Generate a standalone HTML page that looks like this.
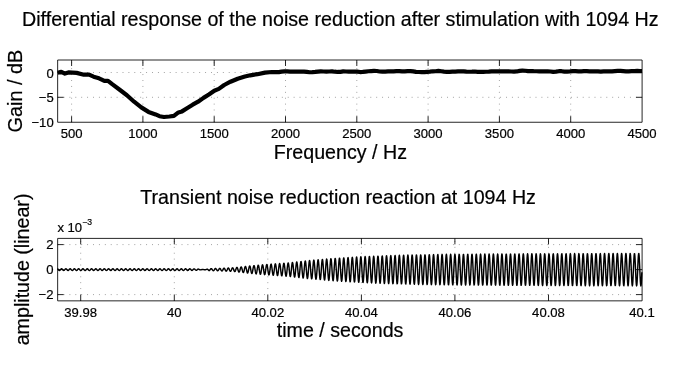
<!DOCTYPE html>
<html><head><meta charset="utf-8"><title>Noise reduction plots</title>
<style>html,body{margin:0;padding:0;background:#fff}svg{display:block}
text{font-family:"Liberation Sans",sans-serif;fill:#000;font-variant-ligatures:none;stroke:#000;stroke-width:.2px}
.t{font-size:19.65px}.k{font-size:13.1px}
.g{stroke:#000;stroke-opacity:.5;stroke-width:.8;stroke-dasharray:.9 5;fill:none}
.a{stroke:#000;stroke-opacity:.85;stroke-width:1;fill:none}
</style></head><body>
<svg width="685" height="367" viewBox="0 0 685 367">
<rect width="685" height="367" fill="#fff"/>
<text class="t" style="font-size:19.67px" x="22.0" y="25.6">Differential response of the noise reduction after stimulation with 1094 Hz</text>
<text class="t" x="140.3" y="204.1">Transient noise reduction reaction at 1094 Hz</text>
<text class="t" x="273.8" y="158.5">Frequency / Hz</text>
<text class="t" x="276.8" y="336.8">time / seconds</text>
<text class="t" style="font-size:19.85px" transform="translate(21.8,132.5) rotate(-90)">Gain / dB</text>
<text class="t" transform="translate(28.9,345.3) rotate(-90)">amplitude (linear)</text>
<path class="g" d="M71.6,122.25 V60.0"/>
<path class="a" d="M71.6,122.25 v-6 M71.6,60.0 v6"/>
<text class="k" text-anchor="middle" x="71.6" y="138.4">500</text>
<path class="g" d="M142.9,122.25 V60.0"/>
<path class="a" d="M142.9,122.25 v-6 M142.9,60.0 v6"/>
<text class="k" text-anchor="middle" x="142.9" y="138.4">1000</text>
<path class="g" d="M214.2,122.25 V60.0"/>
<path class="a" d="M214.2,122.25 v-6 M214.2,60.0 v6"/>
<text class="k" text-anchor="middle" x="214.2" y="138.4">1500</text>
<path class="g" d="M285.5,122.25 V60.0"/>
<path class="a" d="M285.5,122.25 v-6 M285.5,60.0 v6"/>
<text class="k" text-anchor="middle" x="285.5" y="138.4">2000</text>
<path class="g" d="M356.8,122.25 V60.0"/>
<path class="a" d="M356.8,122.25 v-6 M356.8,60.0 v6"/>
<text class="k" text-anchor="middle" x="356.8" y="138.4">2500</text>
<path class="g" d="M428.1,122.25 V60.0"/>
<path class="a" d="M428.1,122.25 v-6 M428.1,60.0 v6"/>
<text class="k" text-anchor="middle" x="428.1" y="138.4">3000</text>
<path class="g" d="M499.4,122.25 V60.0"/>
<path class="a" d="M499.4,122.25 v-6 M499.4,60.0 v6"/>
<text class="k" text-anchor="middle" x="499.4" y="138.4">3500</text>
<path class="g" d="M570.7,122.25 V60.0"/>
<path class="a" d="M570.7,122.25 v-6 M570.7,60.0 v6"/>
<text class="k" text-anchor="middle" x="570.7" y="138.4">4000</text>
<text class="k" text-anchor="middle" x="642.0" y="138.4">4500</text>
<path class="g" d="M57.65,72.5 H642.1"/>
<path class="a" d="M57.65,72.5 h6 M642.1,72.5 h-6"/>
<text class="k" text-anchor="end" x="53.7" y="77.5">0</text>
<path class="g" d="M57.65,97.3 H642.1"/>
<path class="a" d="M57.65,97.3 h6 M642.1,97.3 h-6"/>
<text class="k" text-anchor="end" x="53.7" y="102.3">−5</text>
<text class="k" text-anchor="end" x="53.7" y="127.2">−10</text>
<path class="a" d="M57.65,60.0 H642.1 V122.25 H57.65 Z"/>
<path d="M57.7,72.70 L61.3,71.80 L64.9,73.60 L68.5,72.40 L76.6,72.90 L83.8,74.70 L89.1,74.70 L93.6,76.70 L99.0,78.30 L104.4,80.80 L108.0,80.80 L112.5,84.40 L119.7,89.80 L126.9,95.20 L134.1,101.70 L141.3,107.40 L148.5,111.90 L155.6,114.40 L159.5,116.20 L164.0,117.00 L169.4,116.50 L173.9,115.90 L178.4,112.40 L182.0,111.40 L187.4,108.00 L192.7,104.70 L198.1,101.70 L203.5,97.90 L208.9,94.50 L214.3,90.70 L218.8,88.90 L224.2,85.00 L230.5,81.70 L237.7,78.70 L244.9,76.50 L250.3,75.30 L257.4,74.20 L265.0,72.60 L272.0,72.00 L276.0,72.18 L278.8,72.13 L281.6,71.62 L284.4,71.43 L287.2,71.43 L290.0,71.66 L292.8,71.62 L295.6,71.64 L298.4,71.61 L301.2,71.49 L304.0,71.57 L306.8,71.85 L309.6,72.25 L312.4,72.17 L315.2,71.92 L318.0,71.59 L320.8,71.36 L323.6,71.50 L326.4,71.54 L329.2,71.49 L332.0,71.32 L334.8,71.71 L337.6,71.97 L340.4,71.80 L343.2,71.44 L346.0,71.50 L348.8,71.68 L351.6,71.63 L354.4,71.48 L357.2,71.62 L360.0,72.03 L362.8,71.95 L365.6,71.61 L368.4,71.26 L371.2,71.09 L374.0,70.97 L376.8,71.00 L379.6,71.47 L382.4,71.67 L385.2,71.53 L388.0,71.39 L390.8,71.46 L393.6,71.39 L396.4,71.16 L399.2,71.18 L402.0,71.29 L404.8,71.36 L407.6,71.17 L410.4,71.14 L413.2,71.36 L416.0,71.83 L418.8,72.01 L421.6,72.03 L424.4,72.11 L427.2,71.82 L430.0,71.66 L432.8,71.29 L435.6,71.24 L438.4,70.92 L441.2,71.24 L444.0,71.63 L446.8,71.87 L449.6,71.90 L452.4,71.71 L455.2,71.64 L458.0,71.46 L460.8,71.40 L463.6,71.38 L466.4,71.68 L469.2,71.75 L472.0,71.68 L474.8,71.48 L477.6,71.80 L480.4,71.83 L483.2,71.88 L486.0,71.73 L488.8,71.69 L491.6,71.39 L494.4,71.41 L497.2,71.31 L500.0,71.41 L502.8,71.37 L505.6,71.45 L508.4,71.37 L511.2,71.48 L514.0,71.64 L516.8,71.44 L519.6,70.84 L522.4,70.62 L525.2,70.74 L528.0,71.08 L530.8,71.08 L533.6,71.19 L536.4,71.23 L539.2,71.30 L542.0,71.36 L544.8,71.35 L547.6,71.25 L550.4,71.47 L553.2,71.81 L556.0,71.61 L558.8,71.21 L561.6,71.22 L564.4,71.58 L567.2,71.64 L570.0,71.44 L572.8,71.14 L575.6,71.19 L578.4,71.36 L581.2,71.37 L584.0,71.22 L586.8,71.13 L589.6,71.28 L592.4,71.26 L595.2,71.32 L598.0,71.38 L600.8,71.55 L603.6,71.35 L606.4,71.35 L609.2,71.29 L612.0,71.37 L614.8,71.13 L617.6,70.93 L620.4,70.85 L623.2,71.07 L626.0,71.30 L628.8,71.28 L631.6,71.17 L634.4,71.03 L637.2,70.96 L640.0,71.07 L642.0,71.10" fill="none" stroke="#000" stroke-width="4.2" stroke-linejoin="round" stroke-linecap="butt"/>
<path class="g" d="M80.7,300.85 V238.4"/>
<path class="a" d="M80.7,300.85 v-6 M80.7,238.4 v6"/>
<text class="k" text-anchor="middle" x="80.7" y="316.8">39.98</text>
<path class="g" d="M174.3,300.85 V238.4"/>
<path class="a" d="M174.3,300.85 v-6 M174.3,238.4 v6"/>
<text class="k" text-anchor="middle" x="174.3" y="316.8">40</text>
<path class="g" d="M267.8,300.85 V238.4"/>
<path class="a" d="M267.8,300.85 v-6 M267.8,238.4 v6"/>
<text class="k" text-anchor="middle" x="267.8" y="316.8">40.02</text>
<path class="g" d="M361.4,300.85 V238.4"/>
<path class="a" d="M361.4,300.85 v-6 M361.4,238.4 v6"/>
<text class="k" text-anchor="middle" x="361.4" y="316.8">40.04</text>
<path class="g" d="M454.9,300.85 V238.4"/>
<path class="a" d="M454.9,300.85 v-6 M454.9,238.4 v6"/>
<text class="k" text-anchor="middle" x="454.9" y="316.8">40.06</text>
<path class="g" d="M548.5,300.85 V238.4"/>
<path class="a" d="M548.5,300.85 v-6 M548.5,238.4 v6"/>
<text class="k" text-anchor="middle" x="548.5" y="316.8">40.08</text>
<text class="k" text-anchor="middle" x="642.0" y="316.8">40.1</text>
<path class="g" d="M57.65,244.6 H642.1"/>
<path class="a" d="M57.65,244.6 h6 M642.1,244.6 h-6"/>
<text class="k" text-anchor="end" x="53.5" y="249.2">2</text>
<path class="g" d="M57.65,269.6 H642.1"/>
<path class="a" d="M57.65,269.6 h6 M642.1,269.6 h-6"/>
<text class="k" text-anchor="end" x="53.5" y="274.2">0</text>
<path class="g" d="M57.65,294.6 H642.1"/>
<path class="a" d="M57.65,294.6 h6 M642.1,294.6 h-6"/>
<text class="k" text-anchor="end" x="53.5" y="299.2">−2</text>
<path class="a" d="M57.65,238.4 H642.1 V300.85 H57.65 Z"/>
<text class="k" x="57.4" y="231.9">x 10<tspan dy="-6.9" font-size="8.6">−3</tspan></text>
<path d="M57.35,268.78 L57.60,268.85 L57.85,269.03 L58.10,269.29 L58.35,269.59 L58.60,269.90 L58.85,270.17 L59.10,270.37 L59.35,270.47 L59.60,270.45 L59.85,270.33 L60.10,270.11 L60.35,269.83 L60.60,269.52 L60.85,269.22 L61.10,268.98 L61.35,268.82 L61.60,268.78 L61.85,268.84 L62.10,269.01 L62.35,269.26 L62.60,269.56 L62.85,269.87 L63.10,270.15 L63.35,270.35 L63.60,270.46 L63.85,270.46 L64.10,270.35 L64.35,270.14 L64.60,269.86 L64.85,269.55 L65.10,269.25 L65.35,269.00 L65.60,268.84 L65.85,268.78 L66.10,268.83 L66.35,268.99 L66.60,269.23 L66.85,269.53 L67.10,269.84 L67.35,270.12 L67.60,270.34 L67.85,270.46 L68.10,270.47 L68.35,270.36 L68.60,270.16 L68.85,269.89 L69.10,269.58 L69.35,269.28 L69.60,269.02 L69.85,268.85 L70.10,268.78 L70.35,268.82 L70.60,268.97 L70.85,269.20 L71.10,269.50 L71.35,269.81 L71.60,270.09 L71.85,270.32 L72.10,270.45 L72.35,270.47 L72.60,270.38 L72.85,270.19 L73.10,269.92 L73.35,269.61 L73.60,269.31 L73.85,269.05 L74.10,268.86 L74.35,268.78 L74.60,268.81 L74.85,268.95 L75.10,269.18 L75.35,269.47 L75.60,269.78 L75.85,270.07 L76.10,270.30 L76.35,270.44 L76.60,270.47 L76.85,270.39 L77.10,270.21 L77.35,269.95 L77.60,269.64 L77.85,269.34 L78.10,269.07 L78.35,268.88 L78.60,268.78 L78.85,268.80 L79.10,268.93 L79.35,269.15 L79.60,269.44 L79.85,269.75 L80.10,270.04 L80.35,270.28 L80.60,270.43 L80.85,270.47 L81.10,270.40 L81.35,270.23 L81.60,269.98 L81.85,269.68 L82.10,269.37 L82.35,269.09 L82.60,268.89 L82.85,268.79 L83.10,268.79 L83.35,268.91 L83.60,269.12 L83.85,269.41 L84.10,269.71 L84.35,270.01 L84.60,270.26 L84.85,270.42 L85.10,270.47 L85.35,270.42 L85.60,270.25 L85.85,270.01 L86.10,269.71 L86.35,269.40 L86.60,269.12 L86.85,268.91 L87.10,268.79 L87.35,268.79 L87.60,268.89 L87.85,269.10 L88.10,269.37 L88.35,269.68 L88.60,269.98 L88.85,270.24 L89.10,270.41 L89.35,270.47 L89.60,270.43 L89.85,270.27 L90.10,270.03 L90.35,269.74 L90.60,269.43 L90.85,269.14 L91.10,268.92 L91.35,268.80 L91.60,268.78 L91.85,268.88 L92.10,269.08 L92.35,269.34 L92.60,269.65 L92.85,269.96 L93.10,270.21 L93.35,270.40 L93.60,270.47 L93.85,270.44 L94.10,270.29 L94.35,270.06 L94.60,269.77 L94.85,269.46 L95.10,269.17 L95.35,268.94 L95.60,268.81 L95.85,268.78 L96.10,268.86 L96.35,269.05 L96.60,269.32 L96.85,269.62 L97.10,269.93 L97.35,270.19 L97.60,270.38 L97.85,270.47 L98.10,270.45 L98.35,270.31 L98.60,270.09 L98.85,269.80 L99.10,269.49 L99.35,269.20 L99.60,268.96 L99.85,268.82 L100.10,268.78 L100.35,268.85 L100.60,269.03 L100.85,269.29 L101.10,269.59 L101.35,269.90 L101.60,270.17 L101.85,270.37 L102.10,270.47 L102.35,270.45 L102.60,270.33 L102.85,270.11 L103.10,269.83 L103.35,269.52 L103.60,269.23 L103.85,268.98 L104.10,268.83 L104.35,268.78 L104.60,268.84 L104.85,269.01 L105.10,269.26 L105.35,269.56 L105.60,269.87 L105.85,270.14 L106.10,270.35 L106.35,270.46 L106.60,270.46 L106.85,270.35 L107.10,270.14 L107.35,269.86 L107.60,269.55 L107.85,269.25 L108.10,269.00 L108.35,268.84 L108.60,268.78 L108.85,268.83 L109.10,268.99 L109.35,269.23 L109.60,269.53 L109.85,269.84 L110.10,270.12 L110.35,270.33 L110.60,270.45 L110.85,270.47 L111.10,270.36 L111.35,270.16 L111.60,269.89 L111.85,269.58 L112.10,269.28 L112.35,269.03 L112.60,268.85 L112.85,268.78 L113.10,268.82 L113.35,268.96 L113.60,269.20 L113.85,269.49 L114.10,269.80 L114.35,270.09 L114.60,270.32 L114.85,270.45 L115.10,270.47 L115.35,270.38 L115.60,270.19 L115.85,269.92 L116.10,269.62 L116.35,269.31 L116.60,269.05 L116.85,268.86 L117.10,268.78 L117.35,268.81 L117.60,268.95 L117.85,269.17 L118.10,269.46 L118.35,269.77 L118.60,270.06 L118.85,270.30 L119.10,270.44 L119.35,270.47 L119.60,270.39 L119.85,270.21 L120.10,269.95 L120.35,269.65 L120.60,269.34 L120.85,269.07 L121.10,268.88 L121.35,268.78 L121.60,268.80 L121.85,268.93 L122.10,269.15 L122.35,269.43 L122.60,269.74 L122.85,270.04 L123.10,270.28 L123.35,270.43 L123.60,270.47 L123.85,270.41 L124.10,270.23 L124.35,269.98 L124.60,269.68 L124.85,269.37 L125.10,269.10 L125.35,268.89 L125.60,268.79 L125.85,268.79 L126.10,268.91 L126.35,269.12 L126.60,269.40 L126.85,269.71 L127.10,270.01 L127.35,270.26 L127.60,270.42 L127.85,270.47 L128.10,270.42 L128.35,270.26 L128.60,270.01 L128.85,269.71 L129.10,269.40 L129.35,269.12 L129.60,268.91 L129.85,268.79 L130.10,268.79 L130.35,268.89 L130.60,269.10 L130.85,269.37 L131.10,269.68 L131.35,269.98 L131.60,270.23 L131.85,270.41 L132.10,270.47 L132.35,270.43 L132.60,270.28 L132.85,270.04 L133.10,269.74 L133.35,269.43 L133.60,269.15 L133.85,268.93 L134.10,268.80 L134.35,268.78 L134.60,268.88 L134.85,269.07 L135.10,269.34 L135.35,269.65 L135.60,269.95 L135.85,270.21 L136.10,270.39 L136.35,270.47 L136.60,270.44 L136.85,270.30 L137.10,270.06 L137.35,269.77 L137.60,269.46 L137.85,269.17 L138.10,268.95 L138.35,268.81 L138.60,268.78 L138.85,268.86 L139.10,269.05 L139.35,269.31 L139.60,269.62 L139.85,269.92 L140.10,270.19 L140.35,270.38 L140.60,270.47 L140.85,270.45 L141.10,270.32 L141.35,270.09 L141.60,269.80 L141.85,269.49 L142.10,269.20 L142.35,268.96 L142.60,268.82 L142.85,268.78 L143.10,268.85 L143.35,269.03 L143.60,269.28 L143.85,269.58 L144.10,269.89 L144.35,270.16 L144.60,270.36 L144.85,270.47 L145.10,270.45 L145.35,270.33 L145.60,270.12 L145.85,269.84 L146.10,269.53 L146.35,269.23 L146.60,268.99 L146.85,268.83 L147.10,268.78 L147.35,268.84 L147.60,269.00 L147.85,269.25 L148.10,269.55 L148.35,269.86 L148.60,270.14 L148.85,270.35 L149.10,270.46 L149.35,270.46 L149.60,270.35 L149.85,270.14 L150.10,269.87 L150.35,269.56 L150.60,269.26 L150.85,269.01 L151.10,268.84 L151.35,268.78 L151.60,268.83 L151.85,268.98 L152.10,269.23 L152.35,269.52 L152.60,269.83 L152.85,270.11 L153.10,270.33 L153.35,270.45 L153.60,270.47 L153.85,270.37 L154.10,270.17 L154.35,269.90 L154.60,269.59 L154.85,269.29 L155.10,269.03 L155.35,268.85 L155.60,268.78 L155.85,268.82 L156.10,268.96 L156.35,269.20 L156.60,269.49 L156.85,269.80 L157.10,270.09 L157.35,270.31 L157.60,270.45 L157.85,270.47 L158.10,270.38 L158.35,270.19 L158.60,269.93 L158.85,269.62 L159.10,269.32 L159.35,269.05 L159.60,268.86 L159.85,268.78 L160.10,268.81 L160.35,268.94 L160.60,269.17 L160.85,269.46 L161.10,269.77 L161.35,270.06 L161.60,270.29 L161.85,270.44 L162.10,270.47 L162.35,270.40 L162.60,270.21 L162.85,269.96 L163.10,269.65 L163.35,269.34 L163.60,269.08 L163.85,268.88 L164.10,268.78 L164.35,268.80 L164.60,268.92 L164.85,269.14 L165.10,269.43 L165.35,269.74 L165.60,270.03 L165.85,270.27 L166.10,270.43 L166.35,270.47 L166.60,270.41 L166.85,270.24 L167.10,269.98 L167.35,269.68 L167.60,269.37 L167.85,269.10 L168.10,268.89 L168.35,268.79 L168.60,268.79 L168.85,268.91 L169.10,269.12 L169.35,269.40 L169.60,269.71 L169.85,270.01 L170.10,270.25 L170.35,270.42 L170.60,270.47 L170.85,270.42 L171.10,270.26 L171.35,270.01 L171.60,269.71 L171.85,269.41 L172.10,269.12 L172.35,268.91 L172.60,268.79 L172.85,268.79 L173.10,268.89 L173.35,269.09 L173.60,269.37 L173.85,269.68 L174.10,269.98 L174.35,270.23 L174.60,270.40 L174.85,270.47 L175.10,270.43 L175.35,270.28 L175.60,270.04 L175.85,269.75 L176.10,269.44 L176.35,269.15 L176.60,268.93 L176.85,268.80 L177.10,268.78 L177.35,268.88 L177.60,269.07 L177.85,269.34 L178.10,269.64 L178.35,269.95 L178.60,270.21 L178.85,270.39 L179.10,270.47 L179.35,270.44 L179.60,270.30 L179.85,270.07 L180.10,269.78 L180.35,269.47 L180.60,269.18 L180.85,268.95 L181.10,268.81 L181.35,268.78 L181.60,268.86 L181.85,269.05 L182.10,269.31 L182.35,269.61 L182.60,269.92 L182.85,270.19 L183.10,270.38 L183.35,270.47 L183.60,270.45 L183.85,270.32 L184.10,270.09 L184.35,269.81 L184.60,269.50 L184.85,269.20 L185.10,268.97 L185.35,268.82 L185.60,268.78 L185.85,268.85 L186.10,269.02 L186.35,269.28 L186.60,269.58 L186.85,269.89 L187.10,270.16 L187.35,270.36 L187.60,270.46 L187.85,270.46 L188.10,270.34 L188.35,270.12 L188.60,269.84 L188.85,269.53 L189.10,269.23 L189.35,268.99 L189.60,268.83 L189.85,268.78 L190.10,268.84 L190.35,269.01 L190.60,269.26 L190.85,269.55 L191.10,269.85 L191.35,270.11 L191.60,270.30 L191.85,270.40 L192.10,270.40 L192.35,270.29 L192.60,270.10 L192.85,269.84 L193.10,269.57 L193.35,269.31 L193.60,269.09 L193.85,268.95 L194.10,268.90 L194.35,268.95 L194.60,269.09 L194.85,269.29 L195.10,269.54 L195.35,269.79 L195.60,270.01 L195.85,270.18 L196.10,270.27 L196.35,270.27 L196.60,270.19 L196.85,270.03 L197.10,269.83 L197.35,269.60 L197.60,269.38 L197.85,269.20 L198.10,269.09 L198.35,269.08 L198.60,269.14 L198.85,269.26 L199.10,269.40 L199.35,269.56 L199.60,269.70 L199.85,269.80 L200.10,269.85 L200.35,269.86 L200.60,269.83 L200.85,269.78 L201.10,269.73 L201.35,269.68 L201.60,269.62 L201.85,269.57 L202.10,269.52 L202.35,269.49 L202.60,269.48 L202.85,269.48 L203.10,269.50 L203.35,269.54 L203.60,269.60 L203.85,269.65 L204.10,269.70 L204.35,269.74 L204.60,269.77 L204.85,269.77 L205.10,269.76 L205.35,269.73 L205.60,269.68 L205.85,269.63 L206.10,269.57 L206.35,269.46 L206.60,269.34 L206.85,269.24 L207.10,269.18 L207.35,269.18 L207.60,269.28 L207.85,269.47 L208.10,269.72 L208.35,270.01 L208.60,270.30 L208.85,270.53 L209.10,270.63 L209.35,270.55 L209.60,270.36 L209.85,270.06 L210.10,269.70 L210.35,269.33 L210.60,268.99 L210.85,268.74 L211.10,268.60 L211.35,268.60 L211.60,268.73 L211.85,268.99 L212.10,269.34 L212.35,269.72 L212.60,270.10 L212.85,270.42 L213.10,270.63 L213.35,270.71 L213.60,270.65 L213.85,270.45 L214.10,270.13 L214.35,269.75 L214.60,269.34 L214.85,268.97 L215.10,268.69 L215.35,268.52 L215.60,268.51 L215.85,268.64 L216.10,268.91 L216.35,269.27 L216.60,269.69 L216.85,270.10 L217.10,270.45 L217.35,270.69 L217.60,270.80 L217.85,270.74 L218.10,270.54 L218.35,270.21 L218.60,269.80 L218.85,269.36 L219.10,268.96 L219.35,268.63 L219.60,268.43 L219.85,268.39 L220.10,268.52 L220.35,268.79 L220.60,269.19 L220.85,269.65 L221.10,270.11 L221.35,270.52 L221.60,270.81 L221.85,270.95 L222.10,270.92 L222.35,270.70 L222.60,270.34 L222.85,269.88 L223.10,269.37 L223.35,268.89 L223.60,268.50 L223.85,268.26 L224.10,268.19 L224.35,268.32 L224.60,268.62 L224.85,269.07 L225.10,269.60 L225.35,270.13 L225.60,270.61 L225.85,270.97 L226.10,271.15 L226.35,271.12 L226.60,270.90 L226.85,270.50 L227.10,269.97 L227.35,269.40 L227.60,268.84 L227.85,268.38 L228.10,268.08 L228.35,267.99 L228.60,268.11 L228.85,268.44 L229.10,268.94 L229.35,269.53 L229.60,270.14 L229.85,270.69 L230.10,271.11 L230.35,271.33 L230.60,271.33 L230.85,271.09 L231.10,270.66 L231.35,270.08 L231.60,269.43 L231.85,268.80 L232.10,268.27 L232.35,267.92 L232.60,267.79 L232.85,267.91 L233.10,268.25 L233.35,268.79 L233.60,269.45 L233.85,270.14 L234.10,270.77 L234.35,271.27 L234.60,271.56 L234.85,271.59 L235.10,271.36 L235.35,270.89 L235.60,270.23 L235.85,269.48 L236.10,268.72 L236.35,268.06 L236.60,267.60 L236.85,267.40 L237.10,267.50 L237.35,267.89 L237.60,268.52 L237.85,269.32 L238.10,270.18 L238.35,270.98 L238.60,271.63 L238.85,272.01 L239.10,272.09 L239.35,271.83 L239.60,271.26 L239.85,270.47 L240.10,269.54 L240.35,268.60 L240.60,267.78 L240.85,267.19 L241.10,266.92 L241.35,267.01 L241.60,267.45 L241.85,268.20 L242.10,269.15 L242.35,270.19 L242.60,271.17 L242.85,271.96 L243.10,272.46 L243.35,272.58 L243.60,272.30 L243.85,271.66 L244.10,270.73 L244.35,269.64 L244.60,268.52 L244.85,267.53 L245.10,266.80 L245.35,266.45 L245.60,266.51 L245.85,267.00 L246.10,267.84 L246.35,268.95 L246.60,270.16 L246.85,271.32 L247.10,272.28 L247.35,272.89 L247.60,273.07 L247.85,272.79 L248.10,272.08 L248.35,271.03 L248.60,269.77 L248.85,268.48 L249.10,267.32 L249.35,266.46 L249.60,266.01 L249.85,266.05 L250.10,266.56 L250.35,267.49 L250.60,268.72 L250.85,270.09 L251.10,271.41 L251.35,272.51 L251.60,273.24 L251.85,273.48 L252.10,273.22 L252.35,272.46 L252.60,271.32 L252.85,269.93 L253.10,268.49 L253.35,267.18 L253.60,266.19 L253.85,265.64 L254.10,265.63 L254.35,266.15 L254.60,267.14 L254.85,268.48 L255.10,269.99 L255.35,271.46 L255.60,272.71 L255.85,273.55 L256.10,273.88 L256.35,273.64 L256.60,272.86 L256.85,271.63 L257.10,270.13 L257.35,268.53 L257.60,267.07 L257.85,265.94 L258.10,265.29 L258.35,265.21 L258.60,265.73 L258.85,266.77 L259.10,268.21 L259.35,269.85 L259.60,271.48 L259.85,272.88 L260.10,273.85 L260.35,274.27 L260.60,274.07 L260.85,273.27 L261.10,271.97 L261.35,270.35 L261.60,268.61 L261.85,266.99 L262.10,265.71 L262.35,264.94 L262.60,264.79 L262.85,265.29 L263.10,266.38 L263.35,267.91 L263.60,269.69 L263.85,271.47 L264.10,273.01 L264.35,274.11 L264.60,274.62 L264.85,274.47 L265.10,273.66 L265.35,272.31 L265.60,270.59 L265.85,268.72 L266.10,266.97 L266.35,265.55 L266.60,264.68 L266.85,264.46 L267.10,264.93 L267.35,266.03 L267.60,267.62 L267.85,269.50 L268.10,271.40 L268.35,273.08 L268.60,274.30 L268.85,274.91 L269.10,274.82 L269.35,274.03 L269.60,272.64 L269.85,270.84 L270.10,268.87 L270.35,266.98 L270.60,265.44 L270.85,264.44 L271.10,264.14 L271.35,264.56 L271.60,265.67 L271.85,267.32 L272.10,269.28 L272.35,271.31 L272.60,273.12 L272.85,274.47 L273.10,275.19 L273.35,275.17 L273.60,274.40 L273.85,272.99 L274.10,271.12 L274.35,269.03 L274.60,267.02 L274.85,265.34 L275.10,264.22 L275.35,263.82 L275.60,264.19 L275.85,265.30 L276.10,266.99 L276.35,269.04 L276.60,271.19 L276.85,273.14 L277.10,274.63 L277.35,275.46 L277.60,275.51 L277.85,274.78 L278.10,273.35 L278.35,271.41 L278.60,269.23 L278.85,267.08 L279.10,265.26 L279.35,264.01 L279.60,263.51 L279.85,263.83 L280.10,264.92 L280.35,266.65 L280.60,268.78 L280.85,271.05 L281.10,273.13 L281.35,274.76 L281.60,275.71 L281.85,275.85 L282.10,275.16 L282.35,273.72 L282.60,271.73 L282.85,269.44 L283.10,267.17 L283.35,265.21 L283.60,263.83 L283.85,263.22 L284.10,263.46 L284.35,264.53 L284.60,266.29 L284.85,268.50 L285.10,270.88 L285.35,273.10 L285.60,274.87 L285.85,275.95 L286.10,276.19 L286.35,275.54 L286.60,274.11 L286.85,272.06 L287.10,269.68 L287.35,267.28 L287.60,265.18 L287.85,263.66 L288.10,262.93 L288.35,263.10 L288.60,264.14 L288.85,265.92 L289.10,268.20 L289.35,270.69 L289.60,273.06 L289.85,274.99 L290.10,276.22 L290.35,276.57 L290.60,275.99 L290.85,274.56 L291.10,272.45 L291.35,269.95 L291.60,267.38 L291.85,265.09 L292.10,263.39 L292.35,262.51 L292.60,262.58 L292.85,263.60 L293.10,265.43 L293.35,267.83 L293.60,270.50 L293.85,273.07 L294.10,275.20 L294.35,276.60 L294.60,277.07 L294.85,276.55 L295.10,275.10 L295.35,272.90 L295.60,270.25 L295.85,267.49 L296.10,265.00 L296.35,263.11 L296.60,262.07 L296.85,262.05 L297.10,263.03 L297.35,264.91 L297.60,267.43 L297.85,270.27 L298.10,273.04 L298.35,275.37 L298.60,276.95 L298.85,277.56 L299.10,277.12 L299.35,275.66 L299.60,273.38 L299.85,270.59 L300.10,267.64 L300.35,264.94 L300.60,262.85 L300.85,261.65 L301.10,261.51 L301.35,262.46 L301.60,264.37 L301.85,267.00 L302.10,270.00 L302.35,272.97 L302.60,275.51 L302.85,277.29 L303.10,278.04 L303.35,277.68 L303.60,276.23 L303.85,273.89 L304.10,270.96 L304.35,267.84 L304.60,264.93 L304.85,262.63 L305.10,261.25 L305.35,260.98 L305.60,261.87 L305.85,263.81 L306.10,266.54 L306.35,269.69 L306.60,272.86 L306.85,275.62 L307.10,277.59 L307.35,278.51 L307.60,278.24 L307.85,276.82 L308.10,274.42 L308.35,271.37 L308.60,268.07 L308.85,264.96 L309.10,262.46 L309.35,260.90 L309.60,260.51 L309.85,261.33 L310.10,263.27 L310.35,266.07 L310.60,269.35 L310.85,272.69 L311.10,275.64 L311.35,277.79 L311.60,278.86 L311.85,278.70 L312.10,277.33 L312.35,274.91 L312.60,271.78 L312.85,268.35 L313.10,265.07 L313.35,262.38 L313.60,260.66 L313.85,260.12 L314.10,260.85 L314.35,262.76 L314.60,265.60 L314.85,268.99 L315.10,272.48 L315.35,275.60 L315.60,277.94 L315.85,279.18 L316.10,279.14 L316.35,277.83 L316.60,275.42 L316.85,272.22 L317.10,268.66 L317.35,265.21 L317.60,262.34 L317.85,260.43 L318.10,259.74 L318.35,260.37 L318.60,262.24 L318.85,265.11 L319.10,268.59 L319.35,272.23 L319.60,275.53 L319.85,278.06 L320.10,279.47 L320.35,279.57 L320.60,278.34 L320.85,275.94 L321.10,272.68 L321.35,269.00 L321.60,265.39 L321.85,262.33 L322.10,260.23 L322.35,259.38 L322.60,259.89 L322.85,261.71 L323.10,264.60 L323.35,268.17 L323.60,271.95 L323.85,275.44 L324.10,278.16 L324.35,279.75 L324.60,280.00 L324.85,278.85 L325.10,276.47 L325.35,273.17 L325.60,269.37 L325.85,265.59 L326.10,262.34 L326.35,260.05 L326.60,259.03 L326.85,259.42 L327.10,261.18 L327.35,264.08 L327.60,267.73 L327.85,271.64 L328.10,275.31 L328.35,278.23 L328.60,280.01 L328.85,280.41 L329.10,279.37 L329.35,277.02 L329.60,273.67 L329.85,269.77 L330.10,265.83 L330.35,262.39 L330.60,259.90 L330.85,258.70 L331.10,258.96 L331.35,260.64 L331.60,263.54 L331.85,267.26 L332.10,271.31 L332.35,275.15 L332.60,278.26 L332.85,280.22 L333.10,280.78 L333.35,279.84 L333.60,277.54 L333.85,274.17 L334.10,270.19 L334.35,266.12 L334.60,262.50 L334.85,259.83 L335.10,258.46 L335.35,258.58 L335.60,260.17 L335.85,263.04 L336.10,266.79 L336.35,270.93 L336.60,274.91 L336.85,278.19 L337.10,280.33 L337.35,281.06 L337.60,280.25 L337.85,278.02 L338.10,274.67 L338.35,270.63 L338.60,266.45 L338.85,262.67 L339.10,259.82 L339.35,258.27 L339.60,258.24 L339.85,259.72 L340.10,262.54 L340.35,266.30 L340.60,270.53 L340.85,274.64 L341.10,278.09 L341.35,280.42 L341.60,281.32 L341.85,280.65 L342.10,278.51 L342.35,275.17 L342.60,271.09 L342.85,266.80 L343.10,262.87 L343.35,259.84 L343.60,258.11 L343.85,257.91 L344.10,259.28 L344.35,262.03 L344.60,265.81 L344.85,270.11 L345.10,274.35 L345.35,277.97 L345.60,280.49 L345.85,281.56 L346.10,281.04 L346.35,278.99 L346.60,275.69 L346.85,271.56 L347.10,267.17 L347.35,263.09 L347.60,259.88 L347.85,257.96 L348.10,257.59 L348.35,258.83 L348.60,261.52 L348.85,265.30 L349.10,269.66 L349.35,274.04 L349.60,277.83 L349.85,280.53 L350.10,281.79 L350.35,281.42 L350.60,279.48 L350.85,276.21 L351.10,272.06 L351.35,267.56 L351.60,263.34 L351.85,259.94 L352.10,257.83 L352.35,257.29 L352.60,258.40 L352.85,261.01 L353.10,264.78 L353.35,269.20 L353.60,273.70 L353.85,277.66 L354.10,280.55 L354.35,282.00 L354.60,281.79 L354.85,279.96 L355.10,276.74 L355.35,272.56 L355.60,267.98 L355.85,263.61 L356.10,260.03 L356.35,257.73 L356.60,257.00 L356.85,257.97 L357.10,260.49 L357.35,264.24 L357.60,268.72 L357.85,273.33 L358.10,277.46 L358.35,280.55 L358.60,282.19 L358.85,282.15 L359.10,280.44 L359.35,277.28 L359.60,273.09 L359.85,268.42 L360.10,263.91 L360.35,260.15 L360.60,257.64 L360.85,256.73 L361.10,257.55 L361.35,259.98 L361.60,263.70 L361.85,268.22 L362.10,272.94 L362.35,277.22 L362.60,280.49 L362.85,282.32 L363.10,282.45 L363.35,280.87 L363.60,277.79 L363.85,273.61 L364.10,268.89 L364.35,264.26 L364.60,260.34 L364.85,257.66 L365.10,256.57 L365.35,257.22 L365.60,259.53 L365.85,263.19 L366.10,267.72 L366.35,272.51 L366.60,276.92 L366.85,280.36 L367.10,282.38 L367.35,282.69 L367.60,281.26 L367.85,278.27 L368.10,274.12 L368.35,269.37 L368.60,264.64 L368.85,260.57 L369.10,257.70 L369.35,256.42 L369.60,256.91 L369.85,259.09 L370.10,262.68 L370.35,267.21 L370.60,272.06 L370.85,276.60 L371.10,280.22 L371.35,282.42 L371.60,282.92 L371.85,281.64 L372.10,278.76 L372.35,274.65 L372.60,269.86 L372.85,265.04 L373.10,260.82 L373.35,257.77 L373.60,256.30 L373.85,256.61 L374.10,258.65 L374.35,262.17 L374.60,266.69 L374.85,271.60 L375.10,276.26 L375.35,280.04 L375.60,282.44 L375.85,283.13 L376.10,282.01 L376.35,279.24 L376.60,275.18 L376.85,270.37 L377.10,265.46 L377.35,261.09 L377.60,257.86 L377.85,256.19 L378.10,256.32 L378.35,258.22 L378.60,261.65 L378.85,266.15 L379.10,271.12 L379.35,275.90 L379.60,279.85 L379.85,282.44 L380.10,283.31 L380.35,282.37 L380.60,279.72 L380.85,275.71 L381.10,270.89 L381.35,265.89 L381.60,261.38 L381.85,257.97 L382.10,256.11 L382.35,256.05 L382.60,257.80 L382.85,261.14 L383.10,265.62 L383.35,270.63 L383.60,275.52 L383.85,279.63 L384.10,282.41 L384.35,283.49 L384.60,282.71 L384.85,280.19 L385.10,276.25 L385.35,271.42 L385.60,266.34 L385.85,261.70 L386.10,258.11 L386.35,256.05 L386.60,255.80 L386.85,257.39 L387.10,260.63 L387.35,265.07 L387.60,270.12 L387.85,275.12 L388.10,279.39 L388.35,282.36 L388.60,283.64 L388.85,283.04 L389.10,280.65 L389.35,276.79 L389.60,271.96 L389.85,266.81 L390.10,262.04 L390.35,258.27 L390.60,256.01 L390.85,255.57 L391.10,257.01 L391.35,260.13 L391.60,264.52 L391.85,269.60 L392.10,274.69 L392.35,279.10 L392.60,282.26 L392.85,283.73 L393.10,283.31 L393.35,281.07 L393.60,277.30 L393.85,272.50 L394.10,267.31 L394.35,262.43 L394.60,258.50 L394.85,256.05 L395.10,255.42 L395.35,256.68 L395.60,259.67 L395.85,263.99 L396.10,269.07 L396.35,274.23 L396.60,278.78 L396.85,282.11 L397.10,283.78 L397.35,283.55 L397.60,281.47 L397.85,277.81 L398.10,273.04 L398.35,267.82 L398.60,262.83 L398.85,258.75 L399.10,256.11 L399.35,255.28 L399.60,256.36 L399.85,259.21 L400.10,263.46 L400.35,268.53 L400.60,273.76 L400.85,278.44 L401.10,281.94 L401.35,283.81 L401.60,283.78 L401.85,281.86 L402.10,278.31 L402.35,273.59 L402.60,268.34 L402.85,263.26 L403.10,259.02 L403.35,256.19 L403.60,255.16 L403.85,256.06 L404.10,258.77 L404.35,262.93 L404.60,267.99 L404.85,273.27 L405.10,278.07 L405.35,281.75 L405.60,283.81 L405.85,283.98 L406.10,282.23 L406.35,278.80 L406.60,274.14 L406.85,268.87 L407.10,263.70 L407.35,259.31 L407.60,256.30 L407.85,255.06 L408.10,255.77 L408.35,258.33 L408.60,262.40 L408.85,267.44 L409.10,272.77 L409.35,277.69 L409.60,281.54 L409.85,283.80 L410.10,284.17 L410.35,282.60 L410.60,279.29 L410.85,274.69 L411.10,269.41 L411.35,264.15 L411.60,259.62 L411.85,256.42 L412.10,254.98 L412.35,255.50 L412.60,257.90 L412.85,261.87 L413.10,266.88 L413.35,272.26 L413.60,277.29 L413.85,281.31 L414.10,283.76 L414.35,284.33 L414.60,282.94 L414.85,279.77 L415.10,275.24 L415.35,269.96 L415.60,264.62 L415.85,259.95 L416.10,256.57 L416.35,254.93 L416.60,255.25 L416.85,257.49 L417.10,261.35 L417.35,266.32 L417.60,271.73 L417.85,276.87 L418.10,281.04 L418.35,283.69 L418.60,284.46 L418.85,283.25 L419.10,280.22 L419.35,275.78 L419.60,270.51 L419.85,265.12 L420.10,260.33 L420.35,256.78 L420.60,254.93 L420.85,255.05 L421.10,257.12 L421.35,260.86 L421.60,265.77 L421.85,271.19 L422.10,276.41 L422.35,280.73 L422.60,283.57 L422.85,284.55 L423.10,283.53 L423.35,280.66 L423.60,276.31 L423.85,271.07 L424.10,265.63 L424.35,260.72 L424.60,257.00 L424.85,254.96 L425.10,254.88 L425.35,256.76 L425.60,260.37 L425.85,265.21 L426.10,270.65 L426.35,275.95 L426.60,280.41 L426.85,283.43 L427.10,284.62 L427.35,283.80 L427.60,281.08 L427.85,276.84 L428.10,271.63 L428.35,266.15 L428.60,261.13 L428.85,257.24 L429.10,255.01 L429.35,254.72 L429.60,256.42 L429.85,259.89 L430.10,264.66 L430.35,270.09 L430.60,275.47 L430.85,280.07 L431.10,283.27 L431.35,284.66 L431.60,284.04 L431.85,281.50 L432.10,277.37 L432.35,272.20 L432.60,266.68 L432.85,261.56 L433.10,257.51 L433.35,255.07 L433.60,254.58 L433.85,256.09 L434.10,259.42 L434.35,264.10 L434.60,269.53 L434.85,274.97 L435.10,279.71 L435.35,283.10 L435.60,284.69 L435.85,284.27 L436.10,281.90 L436.35,277.88 L436.60,272.77 L436.85,267.22 L437.10,262.00 L437.35,257.79 L437.60,255.16 L437.85,254.46 L438.10,255.78 L438.35,258.95 L438.60,263.55 L438.85,268.96 L439.10,274.47 L439.35,279.33 L439.60,282.89 L439.85,284.69 L440.10,284.48 L440.35,282.28 L440.60,278.39 L440.85,273.33 L441.10,267.77 L441.35,262.46 L441.60,258.10 L441.85,255.27 L442.10,254.36 L442.35,255.49 L442.60,258.50 L442.85,263.01 L443.10,268.39 L443.35,273.95 L443.60,278.93 L443.85,282.67 L444.10,284.67 L444.35,284.66 L444.60,282.65 L444.85,278.89 L445.10,273.90 L445.35,268.33 L445.60,262.94 L445.85,258.44 L446.10,255.43 L446.35,254.31 L446.60,255.24 L446.85,258.09 L447.10,262.48 L447.35,267.82 L447.60,273.41 L447.85,278.49 L448.10,282.39 L448.35,284.59 L448.60,284.79 L448.85,282.96 L449.10,279.36 L449.35,274.45 L449.60,268.90 L449.85,263.44 L450.10,258.81 L450.35,255.62 L450.60,254.30 L450.85,255.02 L451.10,257.70 L451.35,261.96 L451.60,267.25 L451.85,272.86 L452.10,278.04 L452.35,282.09 L452.60,284.48 L452.85,284.89 L453.10,283.26 L453.35,279.81 L453.60,275.00 L453.85,269.47 L454.10,263.96 L454.35,259.20 L454.60,255.84 L454.85,254.31 L455.10,254.83 L455.35,257.32 L455.60,261.46 L455.85,266.69 L456.10,272.31 L456.35,277.57 L456.60,281.78 L456.85,284.36 L457.10,284.98 L457.35,283.54 L457.60,280.25 L457.85,275.54 L458.10,270.04 L458.35,264.49 L458.60,259.61 L458.85,256.07 L459.10,254.34 L459.35,254.65 L459.60,256.96 L459.85,260.96 L460.10,266.12 L460.35,271.74 L460.60,277.09 L460.85,281.44 L461.10,284.21 L461.35,285.04 L461.60,283.81 L461.85,280.68 L462.10,276.08 L462.35,270.62 L462.60,265.02 L462.85,260.04 L463.10,256.33 L463.35,254.40 L463.60,254.50 L463.85,256.62 L464.10,260.48 L464.35,265.55 L464.60,271.18 L464.85,276.60 L465.10,281.08 L465.35,284.04 L465.60,285.08 L465.85,284.05 L466.10,281.10 L466.35,276.61 L466.60,271.19 L466.85,265.56 L467.10,260.47 L467.35,256.60 L467.60,254.47 L467.85,254.36 L468.10,256.29 L468.35,260.00 L468.60,264.99 L468.85,270.61 L469.10,276.09 L469.35,280.71 L469.60,283.85 L469.85,285.10 L470.10,284.28 L470.35,281.50 L470.60,277.14 L470.85,271.77 L471.10,266.11 L471.35,260.93 L471.60,256.90 L471.85,254.57 L472.10,254.25 L472.35,255.98 L472.60,259.54 L472.85,264.44 L473.10,270.03 L473.35,275.57 L473.60,280.32 L473.85,283.65 L474.10,285.10 L474.35,284.48 L474.60,281.88 L474.85,277.65 L475.10,272.34 L475.35,266.67 L475.60,261.39 L475.85,257.21 L476.10,254.69 L476.35,254.16 L476.60,255.69 L476.85,259.08 L477.10,263.89 L477.35,269.46 L477.60,275.05 L477.85,279.92 L478.10,283.42 L478.35,285.07 L478.60,284.67 L478.85,282.26 L479.10,278.16 L479.35,272.92 L479.60,267.24 L479.85,261.87 L480.10,257.55 L480.35,254.83 L480.60,254.09 L480.85,255.42 L481.10,258.65 L481.35,263.34 L481.60,268.88 L481.85,274.51 L482.10,279.50 L482.35,283.17 L482.60,285.03 L482.85,284.83 L483.10,282.61 L483.35,278.65 L483.60,273.49 L483.85,267.81 L484.10,262.37 L484.35,257.90 L484.60,254.99 L484.85,254.04 L485.10,255.16 L485.35,258.22 L485.60,262.80 L485.85,268.30 L486.10,273.97 L486.35,279.06 L486.60,282.90 L486.85,284.96 L487.10,284.98 L487.35,282.95 L487.60,279.14 L487.85,274.05 L488.10,268.38 L488.35,262.87 L488.60,258.26 L488.85,255.17 L489.10,254.01 L489.35,254.93 L489.60,257.81 L489.85,262.27 L490.10,267.71 L490.35,273.41 L490.60,278.61 L490.85,282.61 L491.10,284.87 L491.35,285.10 L491.60,283.27 L491.85,279.61 L492.10,274.62 L492.35,268.96 L492.60,263.39 L492.85,258.65 L493.10,255.37 L493.35,254.00 L493.60,254.71 L493.85,257.41 L494.10,261.75 L494.35,267.13 L494.60,272.85 L494.85,278.14 L495.10,282.30 L495.35,284.76 L495.60,285.20 L495.85,283.57 L496.10,280.07 L496.35,275.18 L496.60,269.54 L496.85,263.92 L497.10,259.05 L497.35,255.60 L497.60,254.01 L497.85,254.52 L498.10,257.03 L498.35,261.23 L498.60,266.55 L498.85,272.29 L499.10,277.66 L499.35,281.97 L499.60,284.63 L499.85,285.29 L500.10,283.85 L500.35,280.52 L500.60,275.73 L500.85,270.13 L501.10,264.45 L501.35,259.47 L501.60,255.84 L501.85,254.05 L502.10,254.34 L502.35,256.67 L502.60,260.73 L502.85,265.98 L503.10,271.71 L503.35,277.17 L503.60,281.62 L503.85,284.47 L504.10,285.34 L504.35,284.11 L504.60,280.95 L504.85,276.27 L505.10,270.71 L505.35,265.00 L505.60,259.91 L505.85,256.11 L506.10,254.12 L506.35,254.20 L506.60,256.33 L506.85,260.24 L507.10,265.41 L507.35,271.13 L507.60,276.66 L507.85,281.25 L508.10,284.29 L508.35,285.37 L508.60,284.35 L508.85,281.36 L509.10,276.81 L509.35,271.30 L509.60,265.56 L509.85,260.37 L510.10,256.41 L510.35,254.21 L510.60,254.07 L510.85,256.01 L511.10,259.77 L511.35,264.84 L511.60,270.55 L511.85,276.14 L512.10,280.86 L512.35,284.08 L512.60,285.37 L512.85,284.56 L513.10,281.76 L513.35,277.33 L513.60,271.88 L513.85,266.12 L514.10,260.83 L514.35,256.72 L514.60,254.32 L514.85,253.97 L515.10,255.71 L515.35,259.30 L515.60,264.28 L515.85,269.97 L516.10,275.61 L516.35,280.46 L516.60,283.86 L516.85,285.36 L517.10,284.76 L517.35,282.14 L517.60,277.85 L517.85,272.46 L518.10,266.69 L518.35,261.32 L518.60,257.05 L518.85,254.45 L519.10,253.89 L519.35,255.42 L519.60,258.85 L519.85,263.72 L520.10,269.38 L520.35,275.07 L520.60,280.04 L520.85,283.61 L521.10,285.32 L521.35,284.94 L521.60,282.51 L521.85,278.36 L522.10,273.04 L522.35,267.27 L522.60,261.81 L522.85,257.39 L523.10,254.61 L523.35,253.83 L523.60,255.15 L523.85,258.41 L524.10,263.17 L524.35,268.79 L524.60,274.52 L524.85,279.60 L525.10,283.35 L525.35,285.26 L525.60,285.09 L525.85,282.86 L526.10,278.86 L526.35,273.62 L526.60,267.85 L526.85,262.32 L527.10,257.76 L527.35,254.78 L527.60,253.79 L527.85,254.91 L528.10,257.99 L528.35,262.63 L528.60,268.20 L528.85,273.96 L529.10,279.15 L529.35,283.06 L529.60,285.18 L529.85,285.23 L530.10,283.19 L530.35,279.34 L530.60,274.19 L530.85,268.44 L531.10,262.84 L531.35,258.14 L531.60,254.98 L531.85,253.77 L532.10,254.68 L532.35,257.58 L532.60,262.09 L532.85,267.61 L533.10,273.40 L533.35,278.68 L533.60,282.76 L533.85,285.08 L534.10,285.34 L534.35,283.50 L534.60,279.81 L534.85,274.76 L535.10,269.02 L535.35,263.37 L535.60,258.54 L535.85,255.20 L536.10,253.78 L536.35,254.47 L536.60,257.19 L536.85,261.57 L537.10,267.02 L537.35,272.83 L537.60,278.20 L537.85,282.44 L538.10,284.96 L538.35,285.43 L538.60,283.80 L538.85,280.27 L539.10,275.33 L539.35,269.61 L539.60,263.91 L539.85,258.96 L540.10,255.43 L540.35,253.80 L540.60,254.29 L540.85,256.81 L541.10,261.05 L541.35,266.44 L541.60,272.25 L541.85,277.71 L542.10,282.09 L542.35,284.81 L542.60,285.50 L542.85,284.08 L543.10,280.72 L543.35,275.88 L543.60,270.21 L543.85,264.45 L544.10,259.39 L544.35,255.69 L544.60,253.85 L544.85,254.12 L545.10,256.45 L545.35,260.55 L545.60,265.86 L545.85,271.67 L546.10,277.21 L546.35,281.73 L546.60,284.65 L546.85,285.55 L547.10,284.33 L547.35,281.15 L547.60,276.43 L547.85,270.80 L548.10,265.01 L548.35,259.84 L548.60,255.97 L548.85,253.92 L549.10,253.97 L549.35,256.11 L549.60,260.06 L549.85,265.28 L550.10,271.08 L550.35,276.69 L550.60,281.36 L550.85,284.46 L551.10,285.58 L551.35,284.57 L551.60,281.57 L551.85,276.97 L552.10,271.39 L552.35,265.58 L552.60,260.30 L552.85,256.27 L553.10,254.02 L553.35,253.85 L553.60,255.79 L553.85,259.57 L554.10,264.70 L554.35,270.49 L554.60,276.16 L554.85,280.96 L555.10,284.25 L555.35,285.58 L555.60,284.79 L555.85,281.97 L556.10,277.50 L556.35,271.99 L556.60,266.15 L556.85,260.78 L557.10,256.58 L557.35,254.13 L557.60,253.75 L557.85,255.48 L558.10,259.11 L558.35,264.13 L558.60,269.90 L558.85,275.62 L559.10,280.55 L559.35,284.02 L559.60,285.57 L559.85,284.99 L560.10,282.36 L560.35,278.03 L560.60,272.58 L560.85,266.73 L561.10,261.27 L561.35,256.92 L561.60,254.27 L561.85,253.67 L562.10,255.20 L562.35,258.65 L562.60,263.57 L562.85,269.30 L563.10,275.07 L563.35,280.12 L563.60,283.76 L563.85,285.52 L564.10,285.16 L564.35,282.72 L564.60,278.54 L564.85,273.16 L565.10,267.31 L565.35,261.77 L565.60,257.28 L565.85,254.44 L566.10,253.62 L566.35,254.94 L566.60,258.22 L566.85,263.02 L567.10,268.70 L567.35,274.51 L567.60,279.67 L567.85,283.49 L568.10,285.45 L568.35,285.31 L568.60,283.07 L568.85,279.03 L569.10,273.74 L569.35,267.90 L569.60,262.29 L569.85,257.66 L570.10,254.62 L570.35,253.59 L570.60,254.69 L570.85,257.79 L571.10,262.47 L571.35,268.11 L571.60,273.95 L571.85,279.21 L572.10,283.19 L572.35,285.36 L572.60,285.44 L572.85,283.40 L573.10,279.52 L573.35,274.32 L573.60,268.50 L573.85,262.82 L574.10,258.05 L574.35,254.83 L574.60,253.58 L574.85,254.47 L575.10,257.39 L575.35,261.94 L575.60,267.51 L575.85,273.37 L576.10,278.73 L576.35,282.88 L576.60,285.25 L576.85,285.54 L577.10,283.71 L577.35,279.99 L577.60,274.90 L577.85,269.09 L578.10,263.36 L578.35,258.46 L578.60,255.06 L578.85,253.59 L579.10,254.27 L579.35,257.00 L579.60,261.41 L579.85,266.92 L580.10,272.79 L580.35,278.24 L580.60,282.54 L580.85,285.12 L581.10,285.63 L581.35,284.00 L581.60,280.45 L581.85,275.46 L582.10,269.69 L582.35,263.91 L582.60,258.89 L582.85,255.30 L583.10,253.63 L583.35,254.09 L583.60,256.62 L583.85,260.89 L584.10,266.33 L584.35,272.20 L584.60,277.74 L584.85,282.19 L585.10,284.96 L585.35,285.69 L585.60,284.27 L585.85,280.90 L586.10,276.02 L586.35,270.29 L586.60,264.47 L586.85,259.33 L587.10,255.57 L587.35,253.69 L587.60,253.93 L587.85,256.27 L588.10,260.39 L588.35,265.74 L588.60,271.61 L588.85,277.22 L589.10,281.82 L589.35,284.79 L589.60,285.73 L589.85,284.52 L590.10,281.33 L590.35,276.57 L590.60,270.89 L590.85,265.03 L591.10,259.79 L591.35,255.86 L591.60,253.77 L591.85,253.79 L592.10,255.93 L592.35,259.89 L592.60,265.16 L592.85,271.02 L593.10,276.70 L593.35,281.43 L593.60,284.59 L593.85,285.75 L594.10,284.76 L594.35,281.75 L594.60,277.12 L594.85,271.49 L595.10,265.61 L595.35,260.26 L595.60,256.17 L595.85,253.87 L596.10,253.67 L596.35,255.61 L596.60,259.41 L596.85,264.58 L597.10,270.42 L597.35,276.16 L597.60,281.02 L597.85,284.37 L598.10,285.74 L598.35,284.97 L598.60,282.15 L598.85,277.65 L599.10,272.08 L599.35,266.19 L599.60,260.75 L599.85,256.50 L600.10,254.00 L600.35,253.58 L600.60,255.31 L600.85,258.94 L601.10,264.01 L601.35,269.82 L601.60,275.61 L601.85,280.60 L602.10,284.13 L602.35,285.72 L602.60,285.16 L602.85,282.53 L603.10,278.17 L603.35,272.68 L603.60,266.77 L603.85,261.25 L604.10,256.84 L604.35,254.14 L604.60,253.51 L604.85,255.02 L605.10,258.49 L605.35,263.44 L605.60,269.22 L605.85,275.05 L606.10,280.16 L606.35,283.87 L606.60,285.67 L606.85,285.33 L607.10,282.89 L607.35,278.69 L607.60,273.27 L607.85,267.37 L608.10,261.76 L608.35,257.21 L608.60,254.31 L608.85,253.46 L609.10,254.76 L609.35,258.05 L609.60,262.88 L609.85,268.62 L610.10,274.49 L610.35,279.71 L610.60,283.58 L610.85,285.60 L611.10,285.48 L611.35,283.24 L611.60,279.19 L611.85,273.86 L612.10,267.96 L612.35,262.29 L612.60,257.59 L612.85,254.50 L613.10,253.43 L613.35,254.52 L613.60,257.63 L613.85,262.33 L614.10,268.02 L614.35,273.91 L614.60,279.24 L614.85,283.28 L615.10,285.50 L615.35,285.60 L615.60,283.57 L615.85,279.68 L616.10,274.44 L616.35,268.56 L616.60,262.82 L616.85,257.99 L617.10,254.71 L617.35,253.42 L617.60,254.30 L617.85,257.22 L618.10,261.79 L618.35,267.42 L618.60,273.33 L618.85,278.76 L619.10,282.96 L619.35,285.39 L619.60,285.71 L619.85,283.88 L620.10,280.15 L620.35,275.02 L620.60,269.16 L620.85,263.37 L621.10,258.41 L621.35,254.95 L621.60,253.44 L621.85,254.10 L622.10,256.83 L622.35,261.26 L622.60,266.82 L622.85,272.75 L623.10,278.26 L623.35,282.62 L623.60,285.25 L623.85,285.79 L624.10,284.17 L624.35,280.62 L624.60,275.59 L624.85,269.77 L625.10,263.92 L625.35,258.84 L625.60,255.20 L625.85,253.48 L626.10,253.92 L626.35,256.45 L626.60,260.74 L626.85,266.22 L627.10,272.15 L627.35,277.75 L627.60,282.26 L627.85,285.09 L628.10,285.85 L628.35,284.45 L628.60,281.06 L628.85,276.15 L629.10,270.37 L629.35,264.49 L629.60,259.29 L629.85,255.47 L630.10,253.54 L630.35,253.76 L630.60,256.09 L630.85,260.23 L631.10,265.63 L631.35,271.56 L631.60,277.23 L631.85,281.89 L632.10,284.91 L632.35,285.89 L632.60,284.70 L632.85,281.50 L633.10,276.71 L633.35,270.98 L633.60,265.06 L633.85,259.76 L634.10,255.77 L634.35,253.63 L634.60,253.62 L634.85,255.75 L635.10,259.74 L635.35,265.04 L635.60,270.96 L635.85,276.70 L636.10,281.49 L636.35,284.70 L636.60,285.90 L636.85,284.93 L637.10,281.91 L637.35,277.26 L637.60,271.58 L637.85,265.64 L638.10,260.24 L638.35,256.08 L638.60,253.73 L638.85,253.51 L639.10,255.43 L639.35,259.25 L639.60,264.46 L639.85,270.35 L640.10,276.15 L640.35,281.08 L640.60,284.48 L640.85,285.90 L641.10,285.14 L641.35,282.32 L641.60,277.80 L641.85,272.18" fill="none" stroke="#000" stroke-width="1.45" stroke-linejoin="round"/>
</svg></body></html>
